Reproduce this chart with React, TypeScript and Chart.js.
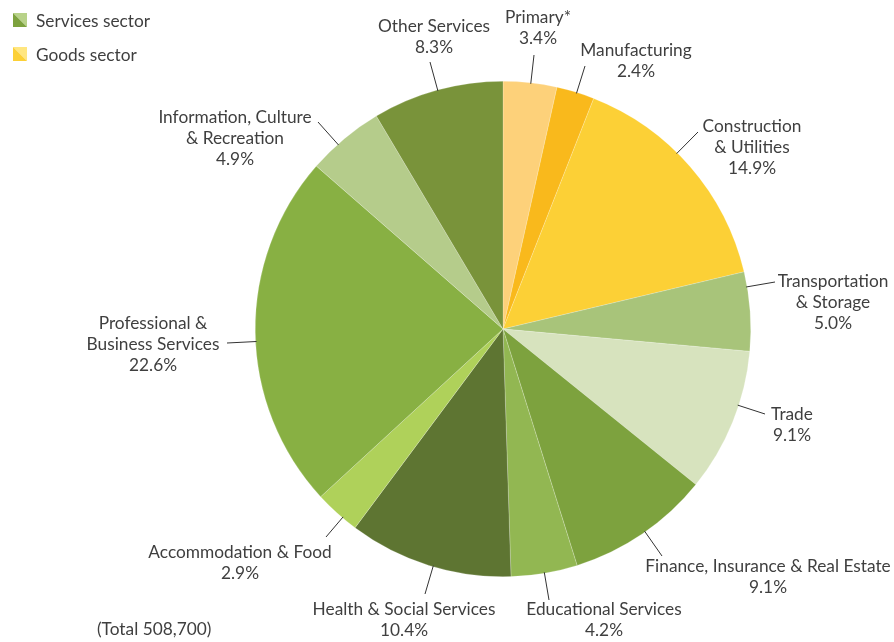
import React, { useEffect, useRef } from "react";
import { Chart, registerables } from "chart.js";

Chart.register(...registerables);

const categories = [
  "Primary*",
  "Manufacturing",
  "Construction & Utilities",
  "Transportation & Storage",
  "Trade",
  "Finance, Insurance & Real Estate",
  "Educational Services",
  "Health & Social Services",
  "Accommodation & Food",
  "Professional & Business Services",
  "Information, Culture & Recreation",
  "Other Services",
];
const shares = [3.4, 2.4, 14.9, 5.0, 9.1, 9.1, 4.2, 10.4, 2.9, 22.6, 4.9, 8.3];
const labelLines = [
  ["Primary*"],
  ["Manufacturing"],
  ["Construction", "& Utilities"],
  ["Transportation", "& Storage"],
  ["Trade"],
  ["Finance, Insurance & Real Estate"],
  ["Educational Services"],
  ["Health & Social Services"],
  ["Accommodation & Food"],
  ["Professional &", "Business Services"],
  ["Information, Culture", "& Recreation"],
  ["Other Services"],
];
const totalNote = "(Total 508,700)";
const legendItems = ["Services sector", "Goods sector"];

const sliceColors = [
  "#FDD17A", "#F9B91C", "#FCD036", "#A8C47A", "#D7E3BE", "#7DA23E",
  "#92B752", "#5E7532", "#AFD15A", "#88B043", "#B5CC8B", "#79933A",
];
const legendColors = [
  ["#7DA23E", "#B8D289"],
  ["#FCD036", "#FFE680"],
];

// label layout: text center x, first line center y, leader line end point
const labelLayout = [
  { x: 538, y: 17, ex: 534, ey: 55 },
  { x: 636, y: 50, ex: 585, ey: 66 },
  { x: 752, y: 126, ex: 698, ey: 132 },
  { x: 833, y: 281, ex: 775, ey: 282 },
  { x: 792, y: 414, ex: 765, ey: 414 },
  { x: 768, y: 566, ex: 662, ey: 556 },
  { x: 604, y: 609, ex: 549, ey: 600 },
  { x: 404, y: 609, ex: 425, ey: 594 },
  { x: 240, y: 552, ex: 326, ey: 537 },
  { x: 153, y: 323, ex: 227, ey: 343 },
  { x: 235, y: 117, ex: 318, ey: 122 },
  { x: 434, y: 26, ex: 430, ey: 62 },
];

const FONT = "17.3px Lato, 'Open Sans', sans-serif";
const TEXT = "#3f3f3f";

const overlay = {
  id: "overlay",
  afterDraw(chart: any) {
    const ctx = chart.ctx;
    const meta = chart.getDatasetMeta(0);
    const arc0 = meta.data[0];
    const cx = arc0.x;
    const cy = arc0.y;
    const r = arc0.outerRadius;
    ctx.save();
    ctx.font = FONT;
    ctx.fillStyle = TEXT;
    ctx.textAlign = "center";
    ctx.textBaseline = "middle";
    categories.forEach((_, i) => {
      const L = labelLayout[i];
      const dx = L.ex - cx;
      const dy = L.ey - cy;
      const d = Math.hypot(dx, dy);
      const sx = cx + (dx / d) * (r - 1);
      const sy = cy + (dy / d) * (r - 1);
      ctx.strokeStyle = "#333";
      ctx.lineWidth = 1;
      ctx.beginPath();
      ctx.moveTo(sx, sy);
      ctx.lineTo(L.ex, L.ey);
      ctx.stroke();
      const lines = [...labelLines[i], shares[i].toFixed(1) + "%"];
      lines.forEach((t, k) => ctx.fillText(t, L.x, L.y + k * 21));
    });
    ctx.textAlign = "left";
    ctx.fillText(totalNote, 97, 629);
    // legend
    legendItems.forEach((t, k) => {
      const x = 13;
      const y = 13 + k * 34;
      const s = 14;
      const [dark, light] = legendColors[k];
      ctx.fillStyle = light;
      ctx.beginPath();
      ctx.moveTo(x, y);
      ctx.lineTo(x + s, y);
      ctx.lineTo(x + s, y + s);
      ctx.closePath();
      ctx.fill();
      ctx.fillStyle = dark;
      ctx.beginPath();
      ctx.moveTo(x, y);
      ctx.lineTo(x + s, y + s);
      ctx.lineTo(x, y + s);
      ctx.closePath();
      ctx.fill();
      ctx.fillStyle = TEXT;
      ctx.fillText(t, 36, y + 8);
    });
    ctx.restore();
  },
};

export default function App() {
  const ref = useRef<HTMLCanvasElement>(null);
  useEffect(() => {
    document.body.style.margin = "0";
    const chart = new Chart(ref.current!, {
      type: "pie",
      data: {
        labels: categories,
        datasets: [
          {
            data: shares,
            backgroundColor: sliceColors,
            borderColor: "rgba(255,255,255,0.4)",
            borderWidth: 0.5,
          },
        ],
      },
      options: {
        responsive: false,
        animation: false,
        layout: { padding: { top: 81, bottom: 65, left: 255, right: 143 } },
        plugins: { legend: { display: false }, tooltip: { enabled: false } },
      },
      plugins: [overlay],
    });
    return () => chart.destroy();
  }, []);
  return (
    <div style={{ width: 894, height: 642 }}>
      <canvas ref={ref} width={894} height={642} style={{ width: 894, height: 642 }} />
    </div>
  );
}
